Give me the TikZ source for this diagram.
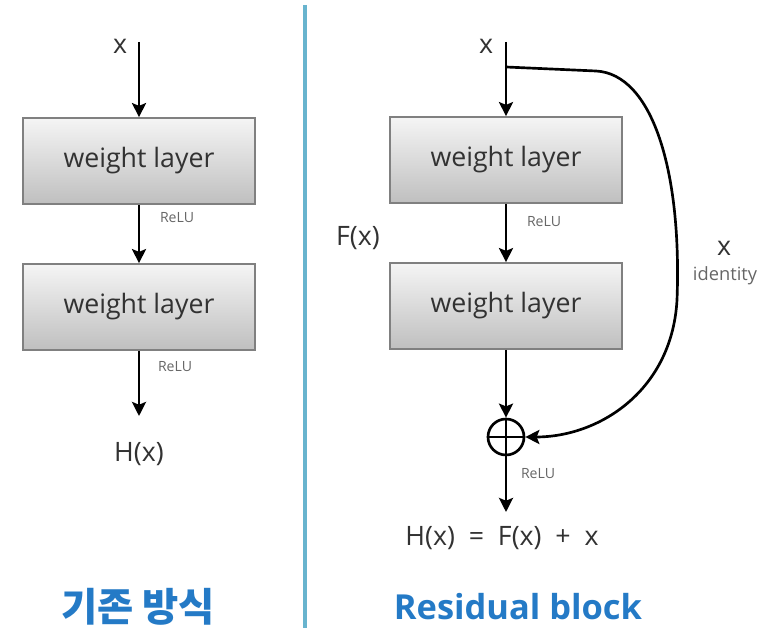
\documentclass[tikz,border=0pt]{standalone}
\usepackage{fontspec}
\setmainfont{Open Sans}
\newfontfamily\kofont{Noto Sans CJK KR}
\usetikzlibrary{arrows.meta}

\definecolor{titleblue}{RGB}{36,122,198}
\definecolor{rulecyan}{RGB}{104,180,206}
\definecolor{labelgray}{RGB}{50,50,50}

\begin{document}
\begin{tikzpicture}[x=0.025cm, y=-0.025cm, line width=1.9pt,
  >={Stealth[length=10pt,width=10pt,inset=2pt]},
  layer/.style={rectangle, draw=black!50, line width=1.2pt, top color=black!4,
    bottom color=black!25, minimum width=5.8cm, minimum height=2.15cm,
    text=labelgray, font=\fontsize{19}{22}\selectfont},
  relu/.style={text=black!60, font=\fontsize{10}{12}\selectfont},
  lbl/.style={text=labelgray, font=\fontsize{19}{22}\selectfont},
  title/.style={text=titleblue, font=\fontsize{24.5}{28}\selectfont\bfseries}]

\useasboundingbox (0,0) rectangle (762,628);

% divider
\draw[rulecyan, line width=3pt] (305,5) -- (305,628);

% plain net
\node[lbl] (lx) at (120,46) {x};
\coordinate (lin) at (139,42);
\node[layer] (l1) at (139,161) {weight layer};
\node[layer] (l2) at (139,307) {weight layer};
\coordinate (lout) at (139,416);
\node[lbl] (lh) at (139,454) {H(x)};
\draw[->] (lin) -- (l1);
\draw[->] (l1) -- (l2);
\draw[->] (l2) -- (lout);

% residual block
\node[lbl] (rx) at (486,46) {x};
\coordinate (rin) at (506,42);
\coordinate (split) at (506,67);
\node[layer] (r1) at (506,160) {weight layer};
\node[layer] (r2) at (506,306) {weight layer};
\node[circle, draw, minimum size=0.9cm, inner sep=0pt] (plus) at (506,437) {};
\draw (plus.north) -- (plus.south) (plus.west) -- (plus.east);
\coordinate (rout) at (506,512);
\node[lbl] (rh) at (502,538) {H(x)\ \ =\ \ F(x)\ \ +\ \ x};
\draw[->] (rin) -- (r1);
\draw[->] (r1) -- (r2);
\draw[->] (r2) -- (plus);
\draw[->] (plus) -- (rout);
% shortcut
\draw[->] (split) -- (596,71) .. controls (652,74) and (682,170) .. (677,300)
  .. controls (672,390) and (600,437) .. (plus);

\node[lbl] (fx) at (358,238) {F(x)};
\node[lbl] (idx) at (724,248) {x};
\node[relu, font=\fontsize{13}{15}\selectfont] (idt) at (725,276) {identity};

% relu labels
\foreach \n/\x/\y in {a/177/218, b/175/367, c/544/222, d/538/474}
  \node[relu] (relu\n) at (\x,\y) {ReLU};

% titles
\node[title, font=\kofont\fontsize{28}{32}\selectfont\bfseries] (ltitle) at (138,607) {기존 방식};
\node[title] (rtitle) at (518,607) {Residual block};
\end{tikzpicture}
\end{document}
